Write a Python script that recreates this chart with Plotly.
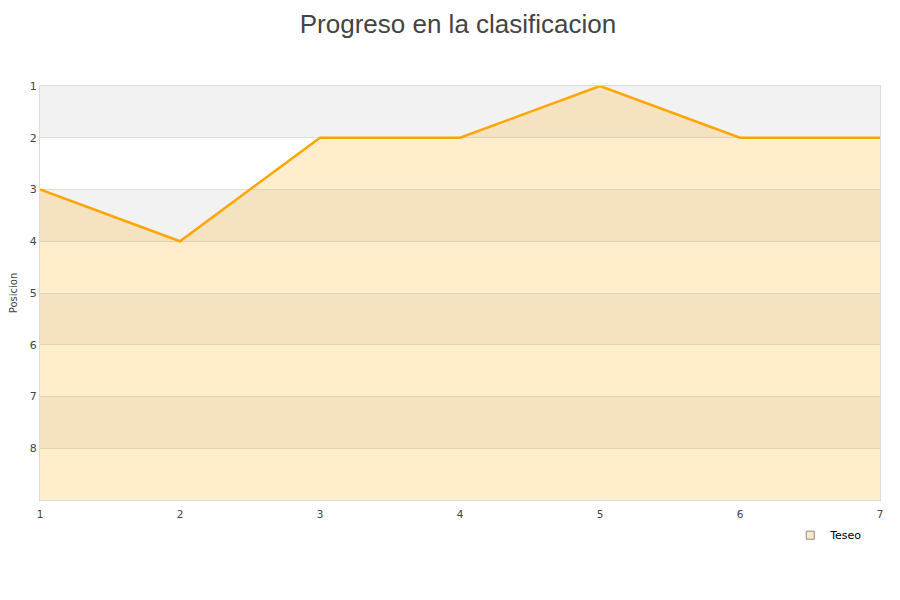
import plotly.graph_objects as go

jornadas = [1, 2, 3, 4, 5, 6, 7]
posiciones = [3, 4, 2, 2, 1, 2, 2]
y_ticks = [1, 2, 3, 4, 5, 6, 7, 8]
serie = "Teseo"
y_min, y_max = 1, 9

fig = go.Figure()

# alternating bands
shapes = []
for i, lo in enumerate(range(y_min, y_max)):
    shapes.append(dict(type="rect", xref="paper", yref="y", x0=0, x1=1, y0=lo, y1=lo + 1,
                       fillcolor="#f2f2f2" if i % 2 == 0 else "#ffffff",
                       line=dict(width=0), layer="below"))

fig.add_trace(go.Scatter(x=jornadas, y=[y_max] * len(jornadas), mode="lines",
                         line=dict(width=0), showlegend=False, hoverinfo="skip"))
fig.add_trace(go.Scatter(x=jornadas, y=posiciones, mode="lines", name=serie,
                         fill="tonexty", fillcolor="rgba(255,165,0,0.2)",
                         line=dict(color="#FFA500", width=2.5), showlegend=False))
# legend entry (square swatch)
fig.add_trace(go.Scatter(x=[None], y=[None], mode="markers", name=serie,
                         marker=dict(symbol="square", size=8, color="#fde9c8",
                                     line=dict(color="#8a8a8a", width=1))))

fig.update_layout(
    width=900, height=600,
    paper_bgcolor="white", plot_bgcolor="white",
    margin=dict(l=32, r=28, t=78, b=108),
    title=dict(text="Progreso en la clasificacion", x=0.5, xanchor="center", y=0.974, yanchor="middle",
               font=dict(family="Liberation Sans, Arial", size=26, color="#444")),
    shapes=shapes,
    font=dict(family="DejaVu Sans", size=11, color="#444"),
    xaxis=dict(range=[1, 7], tickvals=jornadas, showgrid=False, zeroline=False,
               showline=True, linecolor="#dcdcdc", mirror=True, ticks="", automargin=False,
               ticklabelstandoff=4,
               tickfont=dict(size=10.5, family="DejaVu Sans")),
    yaxis=dict(range=[y_max, y_min], tickvals=y_ticks, showgrid=True, gridcolor="#e2ddd5",
               zeroline=False, showline=True, linecolor="#dcdcdc", mirror=True, ticks="",
               automargin=False, tickfont=dict(size=11, family="DejaVu Sans"),
               title=dict(text="Posicion", font=dict(size=10, family="DejaVu Sans"), standoff=14)),
    showlegend=True,
    legend=dict(x=0.986, xanchor="right", y=-0.05, yanchor="top", bgcolor="rgba(0,0,0,0)",
                font=dict(size=11, color="#000", family="DejaVu Sans"), itemwidth=30),
)

fig.write_html("out.html")
